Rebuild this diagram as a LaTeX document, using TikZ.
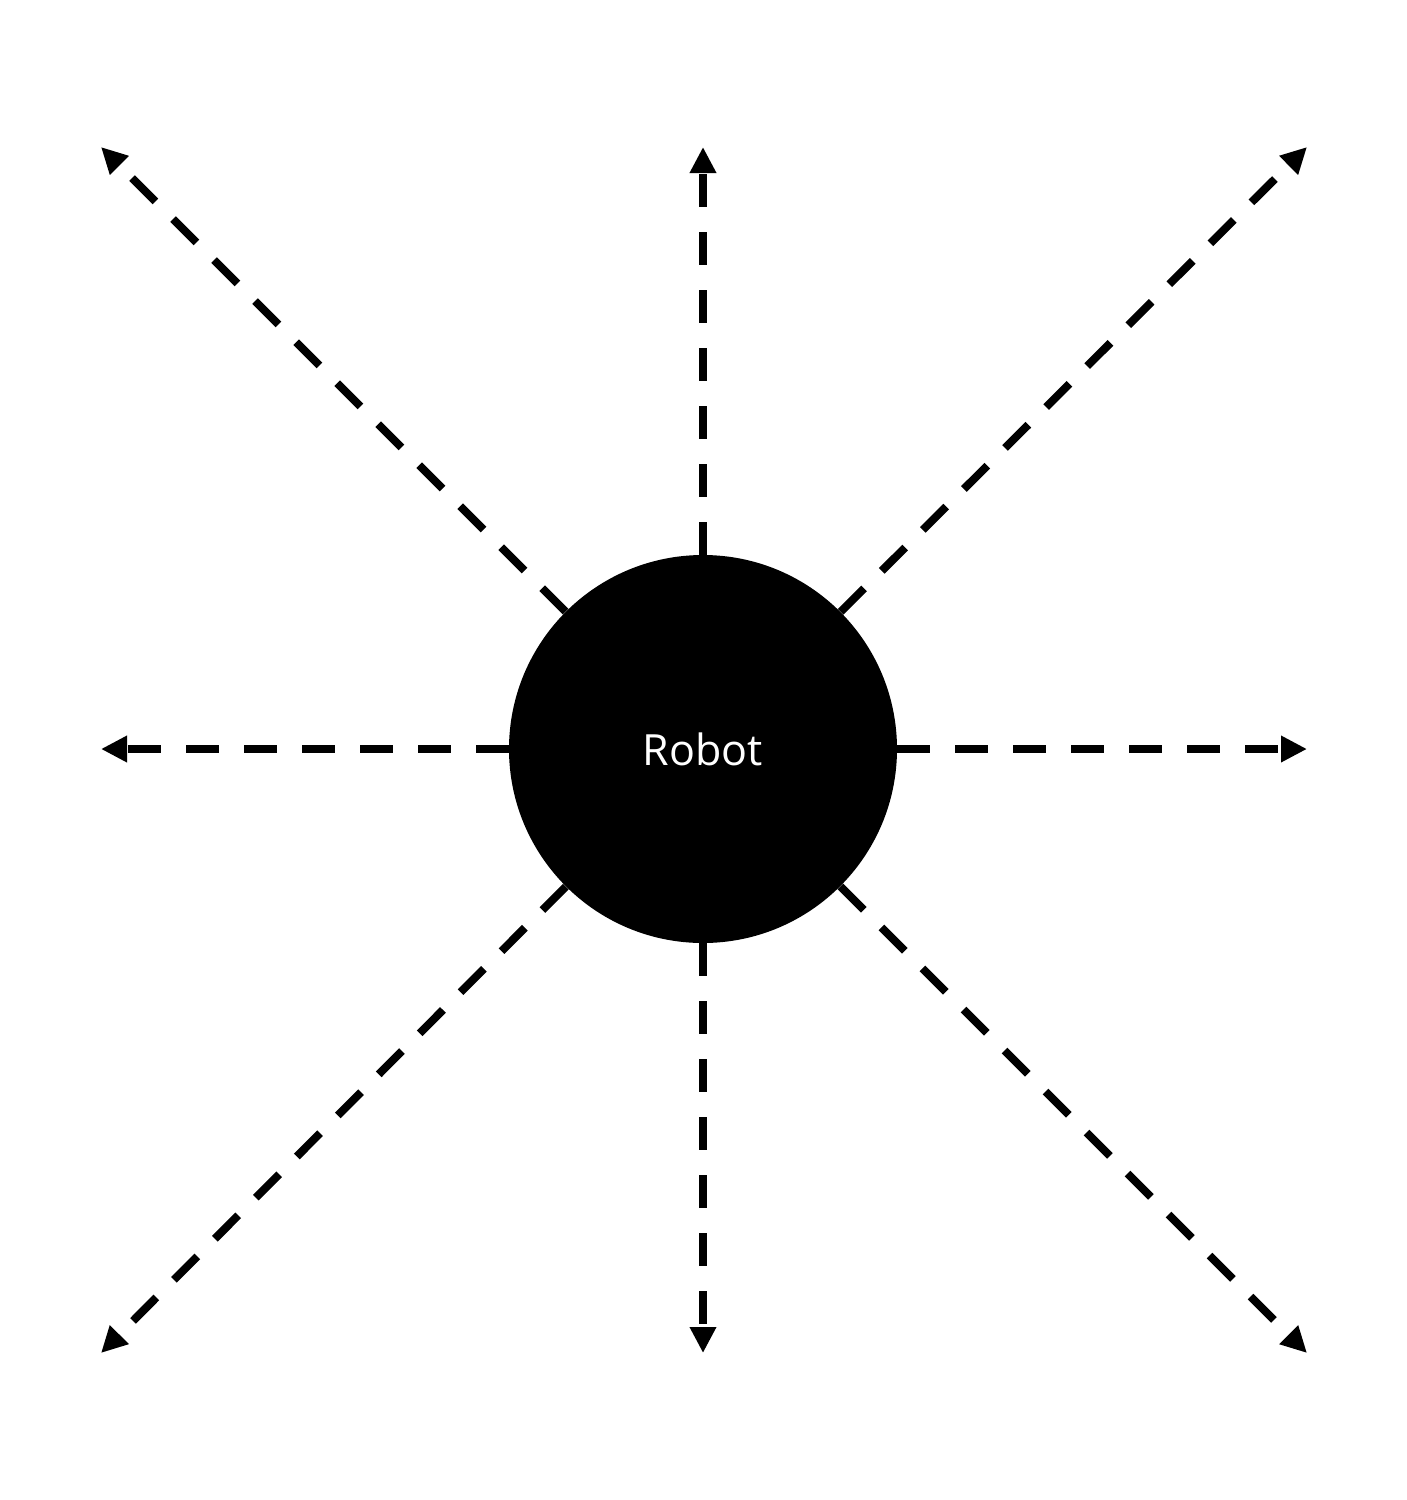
\documentclass[tikz,border=0pt]{standalone}
\usepackage{fontspec}
\setmainfont{Open Sans}
\usetikzlibrary{arrows.meta}
\begin{document}
\begin{tikzpicture}[x=0.5pt,y=-0.5pt,
  ray/.style={line width=4pt, dash pattern=on 16.5pt off 12.5pt, -{Triangle[length=13pt,width=12.5pt]}},
  robotnode/.style={circle, fill=black, minimum size=194pt, inner sep=0pt, text=white, font=\fontsize{21.5pt}{26pt}\selectfont}]
\useasboundingbox (0,0) rectangle (1407,1500);
\node[robotnode] (robot) at (703,749) {Robot};
\coordinate (n) at (703,147);
\coordinate (ne) at (1307,147);
\coordinate (nw) at (101,147);
\coordinate (e) at (1307,749);
\coordinate (w) at (101,749);
\coordinate (s) at (703,1353);
\coordinate (se) at (1307,1353);
\coordinate (sw) at (101,1353);
\foreach \t in {n,ne,nw,e,w,s,se,sw} {
  \draw[ray] (robot) -- (\t);
}
\end{tikzpicture}
\end{document}
